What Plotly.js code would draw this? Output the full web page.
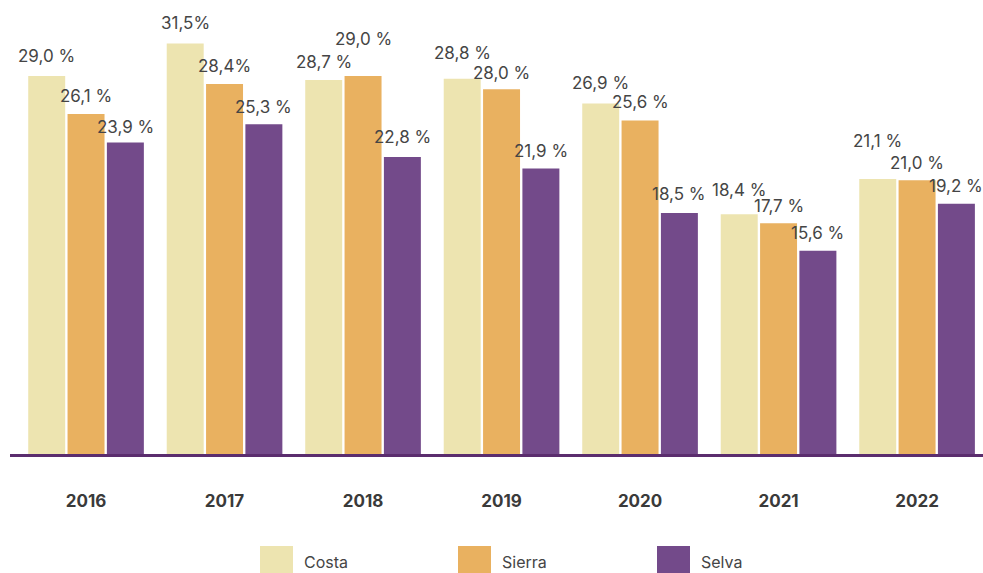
<!DOCTYPE html>
<html><head><meta charset="utf-8">
<script src="https://cdn.plot.ly/plotly-3.0.1.min.js"></script>
<style>html,body{margin:0;padding:0;background:#fff}#chart{width:983px;height:573px}</style>
</head><body><div id="chart"></div>
<script>
const years = ["2016","2017","2018","2019","2020","2021","2022"];
const seriesNames = ["Costa","Sierra","Selva"];
const costa  = [29.0, 31.5, 28.7, 28.8, 26.9, 18.4, 21.1];
const sierra = [26.1, 28.4, 29.0, 28.0, 25.6, 17.7, 21.0];
const selva  = [23.9, 25.3, 22.8, 21.9, 18.5, 15.6, 19.2];
const costaLabels  = ["29,0 %","31,5%","28,7 %","28,8 %","26,9 %","18,4 %","21,1 %"];
const sierraLabels = ["26,1 %","28,4%","29,0 %","28,0 %","25,6 %","17,7 %","21,0 %"];
const selvaLabels  = ["23,9 %","25,3 %","22,8 %","21,9 %","18,5 %","15,6 %","19,2 %"];
const colors = ["#ede4b0","#e9b160","#734a8a"];

// label vertical offsets (px above the bar top), styling only
const labelLift = [
  [8, 9, 6, 14, 8, 12, 26],
  [6, 6, 25, 4, 6, 5, 5],
  [4, 5, 8, 6, 7, 6, 6]
];

const allVals = [costa, sierra, selva];
const allLabels = [costaLabels, sierraLabels, selvaLabels];
const xs = years.map((y,i)=>i);
const traces = allVals.map((v,k)=>({
  type:"bar", name:seriesNames[k], x:xs, y:v,
  marker:{color:colors[k]}, hoverinfo:"skip", showlegend:false
}));
const slot = 0.284;
const FONT = "Inter, 'Noto Sans', sans-serif";
const annotations = [];
allVals.forEach((v,k)=>{
  v.forEach((val,i)=>{
    annotations.push({x:i+(k-1)*slot, y:val, xref:"x", yref:"y", text:allLabels[k][i],
      showarrow:false, yanchor:"bottom", xanchor:"center", yshift:labelLift[k][i],
      font:{family:FONT, size:17, color:"#454545"}});
  });
});
// custom legend
const legX = [260, 458, 657];
const shapes = [];
seriesNames.forEach((n,k)=>{
  shapes.push({type:"rect", xref:"paper", yref:"paper",
    x0:(legX[k]-10)/973, x1:(legX[k]+33-10)/973, y0:(454-546)/454, y1:(454-573)/454,
    fillcolor:colors[k], line:{width:0}});
  annotations.push({xref:"paper", yref:"paper", x:(legX[k]+42-10)/973, y:(454-562)/454,
    xanchor:"left", yanchor:"middle", text:n, showarrow:false,
    font:{family:FONT, size:16, color:"#454545"}});
});

const layout = {
  width:983, height:573,
  margin:{l:10, r:0, t:0, b:119},
  paper_bgcolor:"#fff", plot_bgcolor:"#fff",
  barmode:"group", bargap:0.148, bargroupgap:0.06,
  xaxis:{range:[-0.549, 6.476], tickvals:xs, ticktext:years, showgrid:false, zeroline:false,
    showline:true, linecolor:"#5b2d6e", linewidth:3, ticks:"", ticklabelstandoff:30,
    tickfont:{family:FONT, size:17, color:"#3a3a3a", weight:"bold"}},
  yaxis:{range:[0,34.84], visible:false, showgrid:false, zeroline:false, fixedrange:true},
  annotations:annotations, shapes:shapes, showlegend:false
};
Plotly.newPlot("chart", traces, layout, {displayModeBar:false, staticPlot:true});
</script></body></html>
